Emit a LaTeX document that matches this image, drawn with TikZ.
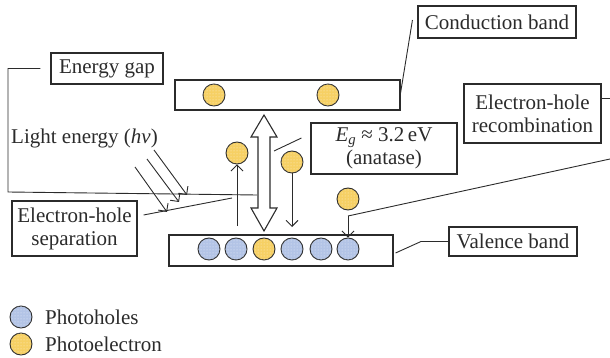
\documentclass[tikz,border=0pt]{standalone}
\usepackage{fontspec}
\setmainfont{Liberation Serif}
\usetikzlibrary{arrows.meta,calc,patterns}
\definecolor{ink}{HTML}{2B2B2B}
\definecolor{holefill}{HTML}{B3C4E6}
\definecolor{elecfill}{HTML}{F6D064}
\begin{document}
\begin{tikzpicture}[x=1pt,y=-1pt,
 box/.style={draw=ink,line width=1.1pt,text=ink,align=center,inner sep=0pt,font=\fontsize{21}{23}\selectfont},
 band/.style={draw=ink,line width=1.1pt,inner sep=0pt},
 hole/.style={circle,draw=ink,line width=0.9pt,fill=holefill,minimum size=22pt,inner sep=0pt,postaction={pattern=dots,pattern color=white!70!holefill}},
 elec/.style={circle,draw=ink,line width=0.9pt,fill=elecfill,minimum size=22pt,inner sep=0pt,postaction={pattern=dots,pattern color=white!70!elecfill}},
 conn/.style={draw=ink,line width=0.9pt},
 arr/.style={draw=ink,line width=0.9pt,-{Straight Barb[length=6pt,width=12pt]}},
 lbl/.style={text=ink,inner sep=0pt,font=\fontsize{21}{23}\selectfont}
]
\useasboundingbox (0,0) rectangle (610,358);

% bands
\node[band,minimum width=225pt,minimum height=30pt] (cb) at (287.5,95) {};
\node[band,minimum width=224pt,minimum height=31pt] (vb) at (281,250.5) {};

% electrons in conduction band
\node[elec] (ce1) at (214,95) {};
\node[elec] (ce2) at (328,95) {};

% valence band particles
\node[hole] (v1) at (209,249) {};
\node[hole] (v2) at (236,249) {};
\node[elec] (v3) at (264,249) {};
\node[hole] (v4) at (292,249) {};
\node[hole] (v5) at (321,249) {};
\node[hole] (v6) at (348,249) {};

% free electrons
\node[elec] (e1) at (237,153) {};
\node[elec] (e2) at (292,162) {};
\node[elec] (e3) at (348,199) {};

% labels
\node[box,minimum width=158pt,minimum height=32pt] (cblab) at (497,22) {Conduction band};
\node[box,minimum width=112pt,minimum height=31pt] (eglab) at (107,68.5) {Energy gap};
\node[lbl,anchor=west] (light) at (11,138) {Light energy (\textit{hν})};
\node[box,minimum width=125pt,minimum height=55pt] (sep) at (74.5,228.5) {Electron-hole\\separation};
\node[box,minimum width=146pt,minimum height=51pt] (egbox) at (384,148.5) {\textit{E}\textsubscript{\textit{g}} ≈ 3.2\,eV\\(anatase)};
\node[box,minimum width=137pt,minimum height=59pt] (rec) at (532.5,113.5) {Electron-hole\\recombination};
\node[box,minimum width=128pt,minimum height=29pt] (vblab) at (513,241.5) {Valence band};

% legend
\node[hole] (lh) at (21,317) {};
\node[elec] (le) at (21,344) {};
\node[lbl,anchor=west] (lht) at (45,317) {Photoholes};
\node[lbl,anchor=west] (let) at (45,344) {Photoelectron};

% big double arrow (energy gap)
\coordinate (gtop) at (264,115);
\coordinate (gbot) at (264,231);
\coordinate (gleft) at (257,195);
\coordinate (gright) at (274,151);
\draw[ink,line width=1.1pt,fill=white,line join=miter]
 (gtop) -- (277,137) -- (270,137) -- (270,208) -- (277,208) -- (gbot)
 -- (251,208) -- (258,208) -- (258,137) -- (251,137) -- cycle;

% excitation / relaxation arrows
\coordinate (upstart) at (237,226);
\draw[arr] (upstart) -- (e1.south);
\draw[arr] (e2.south) -- (292,227);
\coordinate (recend) at (348,216);
\draw[arr] (recend) -- (v6.north);

% light arrows
\coordinate (l1s) at (135,167); \coordinate (l1e) at (167,212);
\coordinate (l2s) at (147,159); \coordinate (l2e) at (179,202);
\coordinate (l3s) at (154,150); \coordinate (l3e) at (187,195);
\draw[arr] (l1s) -- (l1e);
\draw[arr] (l2s) -- (l2e);
\draw[arr] (l3s) -- (l3e);

% label connectors
\draw[conn] ([shift={(-5,-2)}]cblab.west) -- ([shift={(0,-2)}]cb.east);
\draw[conn] ([shift={(-10,0)}]eglab.west) -- (8,68.5) -- (8,192) -- (gleft);
\coordinate (sepend) at (232,198);
\draw[conn] ([shift={(6,-13.5)}]sep.east) -- (sepend);
\draw[conn] (gright) -- ([shift={(-9,-10.5)}]egbox.west);
\draw[conn] ([shift={(0,-15.5)}]rec.east) -- (610,98);
\draw[conn] (610,159) -- (recend);
\draw[conn] ([shift={(2,2.5)}]vb.east) -- (421,241.5) -- (vblab.west);
\end{tikzpicture}
\end{document}
